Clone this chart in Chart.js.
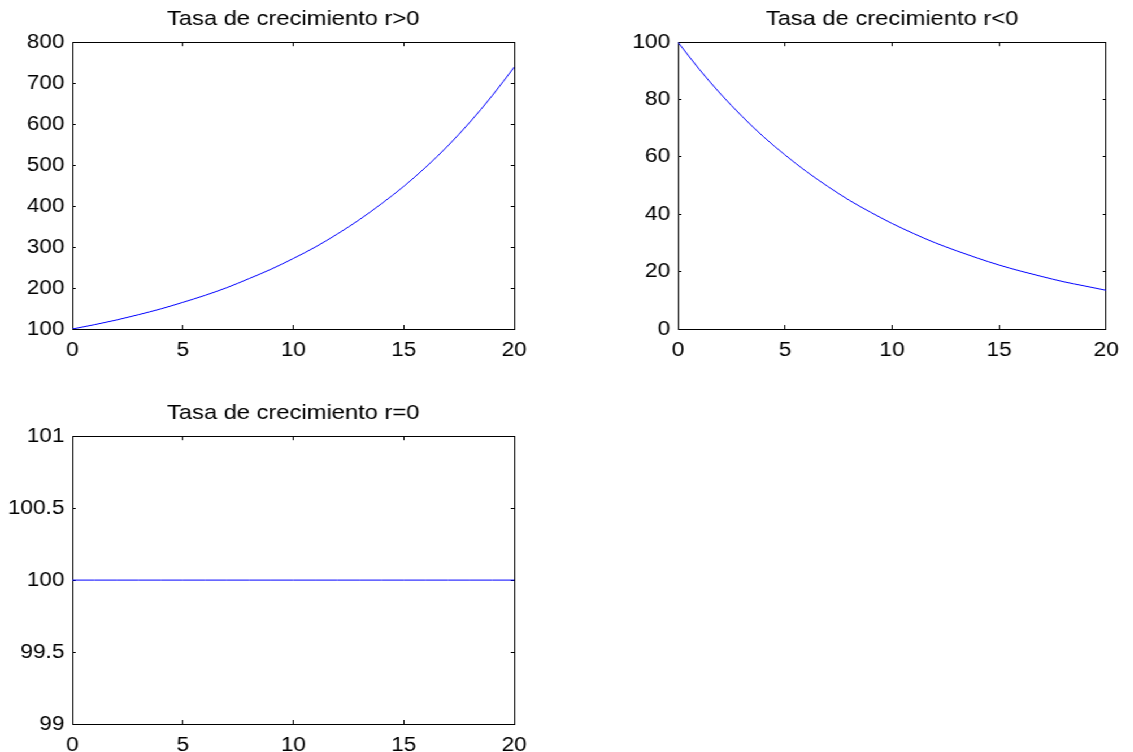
<!DOCTYPE html>
<html>
<head>
<meta charset="utf-8">
<script src="https://cdn.jsdelivr.net/npm/chart.js@4"></script>
<style>
  html, body { margin: 0; padding: 0; background: #fff; }
  /* the original figure is a bit wider than tall, so stretch it horizontally */
  #fig { position: absolute; left: 0; top: 0; width: 1003px; height: 752px;
         transform: scaleX(1.13); transform-origin: 0 0; }
  canvas { position: absolute; }
</style>
</head>
<body>
<div id="fig">
  <canvas id="c1" width="480" height="380" style="left:0;top:0"></canvas>
  <canvas id="c2" width="503" height="380" style="left:500px;top:0"></canvas>
  <canvas id="c3" width="480" height="362" style="left:0;top:390px"></canvas>
</div>

<script>
// time axis (years)
const tValues = [0, 1, 2, 3, 4, 5, 6, 7, 8, 9, 10, 11, 12, 13, 14, 15, 16, 17, 18, 19, 20];

// population, r > 0
const popGrowth = [100, 110.5, 122, 135, 149, 165, 182, 201, 223, 246, 272,
                   300, 332, 367, 406, 448, 495, 547, 605, 669, 739];
// population, r < 0
const popDecay = [100, 90.5, 81.9, 74.1, 67.0, 60.7, 54.9, 49.7, 44.9, 40.7, 36.8,
                  33.3, 30.1, 27.3, 24.7, 22.3, 20.2, 18.3, 16.5, 15.0, 13.5];
// population, r = 0
const popFlat = [100, 100, 100, 100, 100, 100, 100, 100, 100, 100, 100,
                 100, 100, 100, 100, 100, 100, 100, 100, 100, 100];

const titles = ["Tasa de crecimiento r>0", "Tasa de crecimiento r<0", "Tasa de crecimiento r=0"];

const FONT = "'Liberation Sans', Arial, Helvetica, sans-serif";

const toPoints = (ys) => tValues.map((t, i) => ({ x: t, y: ys[i] }));

// MATLAB-like box: axes on all four sides, ticks pointing inward
const makeScales = (yMin, yMax, yStep, yWidth, xHeight) => {

    const tickFont = { family: FONT, size: 20 };
    const border = { color: "#000", width: 1 };
    const label = (v) => String(v);

    return {
        x: {
            type: "linear", position: "bottom", min: 0, max: 20,
            ticks: { stepSize: 5, font: tickFont, color: "#000", padding: 13, maxRotation: 0, callback: label },
            grid: { drawOnChartArea: false, tickLength: -4, color: "#000" },
            border: border,
            afterFit: (s) => { s.height = xHeight; }
        },
        x2: {
            type: "linear", position: "top", min: 0, max: 20,
            ticks: { stepSize: 5, display: false },
            grid: { drawOnChartArea: false, tickLength: -4, color: "#000" },
            border: border,
            afterFit: (s) => { s.height = 0; }
        },
        y: {
            type: "linear", position: "left", min: yMin, max: yMax,
            ticks: { stepSize: yStep, font: tickFont, color: "#000", padding: 10, callback: label },
            grid: { drawOnChartArea: false, tickLength: -3, color: "#000" },
            border: border,
            afterFit: (s) => { s.width = yWidth; }
        },
        y2: {
            type: "linear", position: "right", min: yMin, max: yMax,
            ticks: { stepSize: yStep, display: false },
            grid: { drawOnChartArea: false, tickLength: -3, color: "#000" },
            border: border,
            afterFit: (s) => { s.width = 0; }
        }
    };
};

const drawPanel = (id, title, values, scales, pad) => {

    new Chart(document.getElementById(id), {

        type: "line",

        data: {
            datasets: [{
                data: toPoints(values),
                borderColor: "#0000ff",
                borderWidth: 1,
                pointRadius: 0,
                fill: false,
                cubicInterpolationMode: "monotone"
            }]
        },

        options: {
            responsive: false,
            animation: false,
            layout: { padding: pad },
            plugins: {
                legend: { display: false },
                tooltip: { enabled: false },
                title: {
                    display: true,
                    text: title,
                    fullSize: false,
                    color: "#000",
                    font: { family: FONT, size: 21, weight: "normal" },
                    padding: { top: 7, bottom: 10 }
                }
            },
            scales: scales
        }
    });
};

drawPanel("c1", titles[0], popGrowth, makeScales(100, 800, 100, 64, 51), { right: 25 });
drawPanel("c2", titles[1], popDecay, makeScales(0, 100, 20, 100, 51), { right: 13 });
drawPanel("c3", titles[2], popFlat, makeScales(99, 101, 0.5, 64, 28), { right: 25, top: 4 });
</script>
</body>
</html>
